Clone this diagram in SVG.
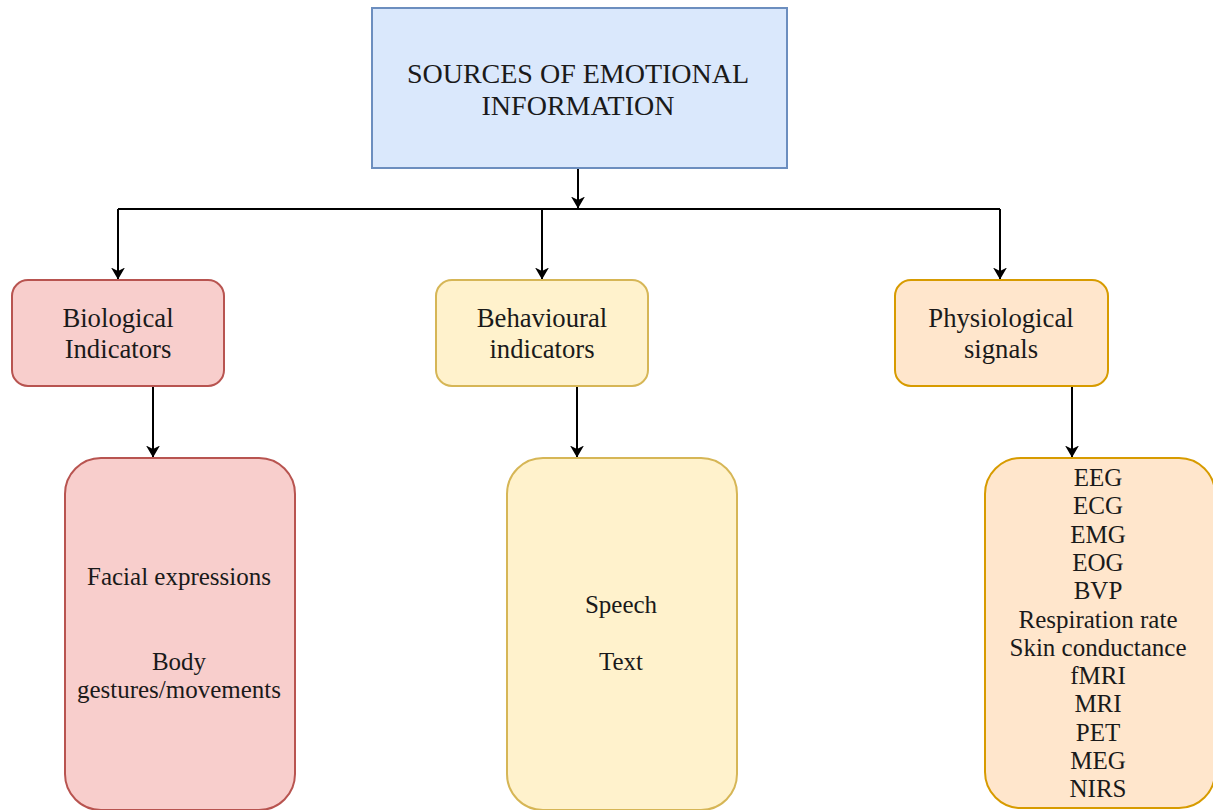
<svg xmlns="http://www.w3.org/2000/svg" width="1213" height="810" viewBox="0 0 1213 810">
  <defs>
    <!-- notched "classic" arrowhead shared by every connector -->
    <marker id="arrow" viewBox="0 0 12 14" refX="11.5" refY="7" markerWidth="12" markerHeight="14" markerUnits="userSpaceOnUse" orient="auto">
      <path d="M0,0 L12,7 L0,14 L3.5,7 Z" fill="#000"/>
    </marker>
  </defs>
  <rect width="1213" height="810" fill="#fff"/>

  <g id="connectors" fill="none" stroke="#000" stroke-width="2">
    <path d="M578,168 V208" marker-end="url(#arrow)"/>
    <path d="M118,209 H1000"/>
    <path d="M118,209 V279" marker-end="url(#arrow)"/>
    <path d="M542,209 V279" marker-end="url(#arrow)"/>
    <path d="M1000,209 V279" marker-end="url(#arrow)"/>
    <path d="M153,386 V457" marker-end="url(#arrow)"/>
    <path d="M577,386 V457" marker-end="url(#arrow)"/>
    <path d="M1072,386 V457" marker-end="url(#arrow)"/>
  </g>

  <g id="sources">
    <rect x="372" y="8" width="415" height="160" fill="#dae8fc" stroke="#6c8ebf" stroke-width="2"/>
    <text x="578" y="83" font-family="'Liberation Serif'" font-size="28" fill="#1a1a1a" text-anchor="middle">SOURCES OF EMOTIONAL</text>
    <text x="578" y="115" font-family="'Liberation Serif'" font-size="28" fill="#1a1a1a" text-anchor="middle">INFORMATION</text>
  </g>

  <g id="biological">
    <rect x="12" y="280" width="212" height="106" rx="16" fill="#f8cecc" stroke="#b85450" stroke-width="2"/>
    <text x="118" y="327" font-family="'Liberation Serif'" font-size="26.7" fill="#1a1a1a" text-anchor="middle">Biological</text>
    <text x="118" y="358" font-family="'Liberation Serif'" font-size="26.7" fill="#1a1a1a" text-anchor="middle">Indicators</text>
  </g>

  <g id="behavioural">
    <rect x="436" y="280" width="212" height="106" rx="16" fill="#fff2cc" stroke="#d6b656" stroke-width="2"/>
    <text x="542" y="327" font-family="'Liberation Serif'" font-size="26.7" fill="#1a1a1a" text-anchor="middle">Behavioural</text>
    <text x="542" y="358" font-family="'Liberation Serif'" font-size="26.7" fill="#1a1a1a" text-anchor="middle">indicators</text>
  </g>

  <g id="physiological">
    <rect x="895" y="280" width="213" height="106" rx="16" fill="#ffe6cc" stroke="#d79b00" stroke-width="2"/>
    <text x="1001" y="327" font-family="'Liberation Serif'" font-size="26.7" fill="#1a1a1a" text-anchor="middle">Physiological</text>
    <text x="1001" y="358" font-family="'Liberation Serif'" font-size="26.7" fill="#1a1a1a" text-anchor="middle">signals</text>
  </g>

  <g id="biological-sources">
    <rect x="65" y="458" width="230" height="352" rx="36" fill="#f8cecc" stroke="#b85450" stroke-width="2"/>
    <text x="179" y="585" font-family="'Liberation Serif'" font-size="25" fill="#1a1a1a" text-anchor="middle">Facial expressions</text>
    <text x="179" y="670" font-family="'Liberation Serif'" font-size="25" fill="#1a1a1a" text-anchor="middle">Body</text>
    <text x="179" y="698" font-family="'Liberation Serif'" font-size="25" fill="#1a1a1a" text-anchor="middle">gestures/movements</text>
  </g>

  <g id="behavioural-sources">
    <rect x="507" y="458" width="230" height="352" rx="36" fill="#fff2cc" stroke="#d6b656" stroke-width="2"/>
    <text x="621" y="613" font-family="'Liberation Serif'" font-size="25" fill="#1a1a1a" text-anchor="middle">Speech</text>
    <text x="621" y="670" font-family="'Liberation Serif'" font-size="25" fill="#1a1a1a" text-anchor="middle">Text</text>
  </g>

  <g id="physiological-sources" font-family="'Liberation Serif'" font-size="25" fill="#1a1a1a" text-anchor="middle">
    <rect x="985" y="458" width="230" height="350" rx="36" fill="#ffe6cc" stroke="#d79b00" stroke-width="2"/>
    <text x="1098" y="486" font-family="'Liberation Serif'">EEG</text>
    <text x="1098" y="514" font-family="'Liberation Serif'">ECG</text>
    <text x="1098" y="543" font-family="'Liberation Serif'">EMG</text>
    <text x="1098" y="571" font-family="'Liberation Serif'">EOG</text>
    <text x="1098" y="599" font-family="'Liberation Serif'">BVP</text>
    <text x="1098" y="628" font-family="'Liberation Serif'">Respiration rate</text>
    <text x="1098" y="656" font-family="'Liberation Serif'">Skin conductance</text>
    <text x="1098" y="684" font-family="'Liberation Serif'">fMRI</text>
    <text x="1098" y="712" font-family="'Liberation Serif'">MRI</text>
    <text x="1098" y="741" font-family="'Liberation Serif'">PET</text>
    <text x="1098" y="769" font-family="'Liberation Serif'">MEG</text>
    <text x="1098" y="797" font-family="'Liberation Serif'">NIRS</text>
  </g>
</svg>
